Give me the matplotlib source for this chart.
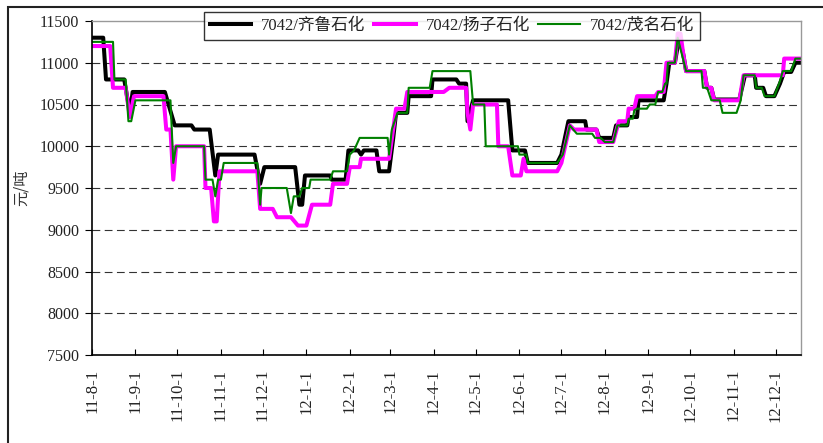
import numpy as np
import pandas as pd
import matplotlib
matplotlib.use('Agg')
import matplotlib.pyplot as plt
import matplotlib.dates as mdates
from matplotlib.patches import Rectangle

# ===== data (yuan / ton)
qilu_dates = ['2011-08-01', '2011-08-09', '2011-08-11', '2011-08-24', '2011-08-28', '2011-08-30',
              '2011-09-22', '2011-09-29', '2011-10-11', '2011-10-13', '2011-10-24', '2011-10-28',
              '2011-10-30', '2011-11-25', '2011-11-29', '2011-12-02', '2011-12-24', '2011-12-27',
              '2011-12-29', '2011-12-31', '2012-01-18', '2012-01-19', '2012-01-29', '2012-01-31',
              '2012-02-07', '2012-02-09', '2012-02-11', '2012-02-20', '2012-02-22', '2012-02-29',
              '2012-03-03', '2012-03-05', '2012-03-13', '2012-03-14', '2012-03-30', '2012-03-31',
              '2012-04-17', '2012-04-19', '2012-04-24', '2012-04-25', '2012-04-29', '2012-05-24',
              '2012-05-27', '2012-06-05', '2012-06-07', '2012-06-28', '2012-07-01', '2012-07-06',
              '2012-07-18', '2012-07-19', '2012-07-26', '2012-07-28', '2012-08-07', '2012-08-09',
              '2012-08-17', '2012-08-18', '2012-08-24', '2012-08-25', '2012-09-12', '2012-09-14',
              '2012-09-16', '2012-09-20', '2012-09-23', '2012-09-26', '2012-09-28', '2012-10-11',
              '2012-10-13', '2012-10-16', '2012-10-18', '2012-11-05', '2012-11-09', '2012-11-16',
              '2012-11-17', '2012-11-22', '2012-11-24', '2012-11-30', '2012-12-04', '2012-12-07',
              '2012-12-12', '2012-12-15', '2012-12-19']
qilu_vals = [11300, 11300, 10800, 10800, 10400, 10650,
             10650, 10250, 10250, 10200, 10200, 9650,
             9900, 9900, 9550, 9750, 9750, 9300,
             9300, 9650, 9650, 9600, 9600, 9950,
             9950, 9900, 9950, 9950, 9700, 9700,
             10100, 10400, 10400, 10600, 10600, 10800,
             10800, 10750, 10750, 10300, 10550, 10550,
             9950, 9950, 9800, 9800, 9900, 10300,
             10300, 10200, 10200, 10100, 10100, 10250,
             10250, 10350, 10350, 10550, 10550, 10750,
             11000, 11000, 11300, 11100, 10900, 10900,
             10700, 10700, 10560, 10560, 10850, 10850,
             10700, 10700, 10600, 10600, 10750, 10890,
             10890, 11000, 11000]

yangzi_dates = ['2011-08-01', '2011-08-14', '2011-08-16', '2011-08-25', '2011-08-28', '2011-08-31',
                '2011-09-21', '2011-09-23', '2011-09-26', '2011-09-28', '2011-09-30', '2011-10-20',
                '2011-10-21', '2011-10-25', '2011-10-27', '2011-10-29', '2011-10-31', '2011-11-27',
                '2011-11-29', '2011-12-08', '2011-12-11', '2011-12-21', '2011-12-26', '2012-01-01',
                '2012-01-05', '2012-01-18', '2012-01-20', '2012-01-30', '2012-02-01', '2012-02-08',
                '2012-02-09', '2012-02-29', '2012-03-05', '2012-03-11', '2012-03-13', '2012-04-08',
                '2012-04-12', '2012-04-24', '2012-04-25', '2012-04-27', '2012-04-29', '2012-05-16',
                '2012-05-17', '2012-05-24', '2012-05-27', '2012-06-02', '2012-06-04', '2012-06-06',
                '2012-06-28', '2012-07-01', '2012-07-07', '2012-07-10', '2012-07-26', '2012-07-28',
                '2012-08-07', '2012-08-11', '2012-08-17', '2012-08-18', '2012-08-22', '2012-08-24',
                '2012-09-06', '2012-09-08', '2012-09-12', '2012-09-14', '2012-09-20', '2012-09-22',
                '2012-09-24', '2012-09-26', '2012-09-28', '2012-10-11', '2012-10-13', '2012-10-16',
                '2012-10-18', '2012-11-05', '2012-11-08', '2012-12-06', '2012-12-07', '2012-12-19']
yangzi_vals = [11200, 11200, 10700, 10700, 10350, 10600,
               10600, 10200, 10200, 9600, 10000, 10000,
               9500, 9500, 9100, 9100, 9700, 9700,
               9250, 9250, 9150, 9150, 9050, 9050,
               9300, 9300, 9550, 9550, 9750, 9750,
               9850, 9850, 10450, 10450, 10650, 10650,
               10700, 10700, 10400, 10200, 10500, 10500,
               10000, 10000, 9650, 9650, 9850, 9700,
               9700, 9800, 10250, 10200, 10200, 10050,
               10050, 10300, 10300, 10450, 10450, 10600,
               10600, 10650, 10650, 11000, 11000, 11350,
               11350, 11100, 10900, 10900, 10700, 10700,
               10550, 10550, 10850, 10850, 11050, 11050]

maoming_dates = ['2011-08-01', '2011-08-16', '2011-08-17', '2011-08-25', '2011-08-27', '2011-08-29',
                 '2011-09-01', '2011-09-26', '2011-09-28', '2011-09-30', '2011-10-20', '2011-10-21',
                 '2011-10-26', '2011-10-28', '2011-10-30', '2011-11-01', '2011-11-03', '2011-11-27',
                 '2011-11-29', '2011-11-30', '2011-12-18', '2011-12-21', '2011-12-23', '2011-12-27',
                 '2011-12-29', '2012-01-03', '2012-01-04', '2012-01-18', '2012-01-20', '2012-01-30',
                 '2012-02-01', '2012-02-04', '2012-02-08', '2012-02-28', '2012-02-29', '2012-03-02',
                 '2012-03-04', '2012-03-06', '2012-03-13', '2012-03-14', '2012-03-29', '2012-03-31',
                 '2012-04-27', '2012-04-29', '2012-05-07', '2012-05-08', '2012-05-31', '2012-06-01',
                 '2012-06-06', '2012-06-07', '2012-06-28', '2012-07-02', '2012-07-07', '2012-07-12',
                 '2012-07-23', '2012-07-25', '2012-07-29', '2012-08-01', '2012-08-07', '2012-08-10',
                 '2012-08-17', '2012-08-18', '2012-08-21', '2012-08-22', '2012-08-24', '2012-08-31',
                 '2012-09-02', '2012-09-06', '2012-09-08', '2012-09-11', '2012-09-13', '2012-09-14',
                 '2012-09-15', '2012-09-20', '2012-09-22', '2012-09-25', '2012-09-28', '2012-10-09',
                 '2012-10-10', '2012-10-13', '2012-10-16', '2012-10-22', '2012-10-24', '2012-11-03',
                 '2012-11-06', '2012-11-08', '2012-11-16', '2012-11-17', '2012-11-21', '2012-11-23',
                 '2012-11-30', '2012-12-04', '2012-12-06', '2012-12-12', '2012-12-15', '2012-12-19']
maoming_vals = [11250, 11250, 10800, 10800, 10300, 10300,
                10550, 10550, 9800, 10000, 10000, 9600,
                9600, 9400, 9600, 9600, 9800, 9800,
                9300, 9500, 9500, 9200, 9400, 9400,
                9500, 9500, 9600, 9600, 9700, 9700,
                9900, 9950, 10100, 10100, 9900, 10200,
                10300, 10400, 10400, 10700, 10700, 10900,
                10900, 10500, 10500, 10000, 10000, 9900,
                9900, 9800, 9800, 9900, 10250, 10150,
                10150, 10100, 10100, 10050, 10050, 10250,
                10250, 10330, 10330, 10430, 10450, 10450,
                10500, 10500, 10650, 10650, 10750, 10750,
                11000, 11000, 11300, 11100, 10900, 10900,
                10700, 10700, 10550, 10550, 10400, 10400,
                10550, 10850, 10850, 10700, 10700, 10600,
                10600, 10780, 10900, 10900, 11050, 11050]

series_names = ['7042/齐鲁石化', '7042/扬子石化', '7042/茂名石化']
xtick_dates = ['2011-08-01', '2011-09-01', '2011-10-01', '2011-11-01', '2011-12-01', '2012-01-01',
               '2012-02-01', '2012-03-01', '2012-04-01', '2012-05-01', '2012-06-01', '2012-07-01',
               '2012-08-01', '2012-09-01', '2012-10-01', '2012-11-01', '2012-12-01']
xtick_labels = ['11-8-1', '11-9-1', '11-10-1', '11-11-1', '11-12-1', '12-1-1',
                '12-2-1', '12-3-1', '12-4-1', '12-5-1', '12-6-1', '12-7-1',
                '12-8-1', '12-9-1', '12-10-1', '12-11-1', '12-12-1']
yticks = [7500, 8000, 8500, 9000, 9500, 10000, 10500, 11000, 11500]

# ===== fonts: serif latin, CJK fallback
fonts = ['Liberation Serif', 'Noto Sans CJK SC']
plt.rcParams['font.family'] = fonts

fig = plt.figure(figsize=(8.23, 4.43), dpi=100)
ax = fig.add_axes([92/823, 1-355/443, (801-92)/823, (355-21)/443])

ax.plot(pd.to_datetime(qilu_dates), qilu_vals, color='black', lw=2.9, label=series_names[0])
ax.plot(pd.to_datetime(yangzi_dates), yangzi_vals, color='#ff00ff', lw=2.9, label=series_names[1])
ax.plot(pd.to_datetime(maoming_dates), maoming_vals, color='#008000', lw=1.5, label=series_names[2])

# axes formatting
ax.set_xlim(pd.Timestamp('2011-08-01'), pd.Timestamp('2012-12-19'))
ax.set_ylim(7500, 11500)
ax.set_yticks(yticks)
ax.set_yticklabels([str(v) for v in yticks], fontsize=11.5, color='#222222')
ax.set_xticks(pd.to_datetime(xtick_dates))
ax.set_xticklabels(xtick_labels, rotation=90, fontsize=12, color='#222222')
ax.tick_params(axis='x', direction='in', length=4, width=0.8, pad=10)
ax.tick_params(axis='y', direction='out', length=5, width=0.8, pad=4)
for yv in yticks[1:-1]:
    ax.axhline(yv, color='#333333', lw=0.8, ls=(0, (7, 4)), zorder=0)
ax.spines['left'].set_linewidth(1.2)
ax.spines['bottom'].set_linewidth(1.2)
for s in ['top', 'right']:
    ax.spines[s].set_color('#999999')
    ax.spines[s].set_linewidth(1.0)
ax.set_ylabel('元/吨', fontsize=11, family=['Noto Sans CJK SC'], color='#333333')
ax.yaxis.set_label_coords(-62/709, 0.5)

leg = ax.legend(loc='upper center', bbox_to_anchor=(452/823, 1-12/443), bbox_transform=fig.transFigure,
                ncol=3, fontsize=12, frameon=True, fancybox=False, edgecolor='black',
                handlelength=2.5, handletextpad=0.6, columnspacing=0.5, borderpad=0.35,
                borderaxespad=0)
leg.get_frame().set_linewidth(1.0)
for t in leg.get_texts():
    t.set_color('#222222')

# outer border of the picture
fig.patches.append(Rectangle((8/823, -0.1), 1.0, 1.1 - 7/443, transform=fig.transFigure,
                             fill=False, edgecolor='#222222', lw=1.5))

fig.savefig('out.png', dpi=100)
